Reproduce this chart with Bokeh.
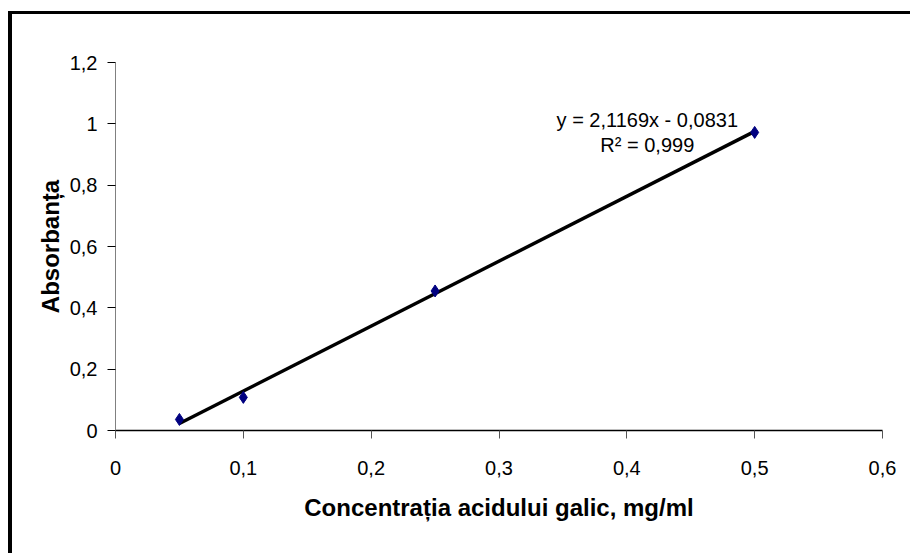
from bokeh.plotting import figure
from bokeh.models import Range1d, FixedTicker, CustomJSTickFormatter, ColumnDataSource, Div
from bokeh.layouts import column, row
from bokeh.embed import file_html
from bokeh.resources import INLINE
from bokeh.core.properties import value

# data
conc = [0.05, 0.1, 0.25, 0.5]
absorb = [0.036, 0.108, 0.455, 0.972]
slope = 2.1169
intercept = -0.0831
x_ticks = [0, 0.1, 0.2, 0.3, 0.4, 0.5, 0.6]
y_ticks = [0, 0.2, 0.4, 0.6, 0.8, 1.0, 1.2]
eq_label = "y = 2,1169x - 0,0831"
r2_label = "R² = 0,999"
x_title = "Concentrația acidului galic, mg/ml"
y_title = "Absorbanța"

FONT = "Liberation Sans"

p = figure(width=898, height=539, output_backend="svg", toolbar_location=None,
           x_range=Range1d(0, 0.6), y_range=Range1d(0, 1.2),
           min_border_left=103, min_border_right=28, min_border_top=48, min_border_bottom=123,
           margin=(0, 0, 0, 0))
p.outline_line_color = None
p.background_fill_color = "white"
p.border_fill_color = "white"
p.xgrid.visible = False
p.ygrid.visible = False

fmt = CustomJSTickFormatter(code="""
if (Math.abs(tick) < 1e-9) return '0';
if (Math.abs(tick - 1) < 1e-9) return '1';
return (Math.round(tick*10)/10).toString().replace('.', ',');
""")

for ax in (p.xaxis[0], p.yaxis[0]):
    ax.formatter = fmt
    ax.major_label_text_font = FONT
    ax.major_label_text_font_size = "20px"
    ax.major_label_text_color = "black"
    ax.minor_tick_line_color = None
    ax.major_tick_in = 0
    ax.major_tick_out = 8
    ax.axis_label_text_font = FONT
    ax.axis_label_text_font_style = "bold"
    ax.axis_label_text_font_size = "24px"
    ax.axis_label_text_color = "black"

p.xaxis.ticker = FixedTicker(ticks=x_ticks)
p.yaxis.ticker = FixedTicker(ticks=y_ticks)
p.xaxis.axis_label = x_title
p.yaxis.axis_label = y_title
p.xaxis.axis_line_color = "black"
p.xaxis.axis_line_width = 1.5
p.xaxis.major_tick_line_color = "#555555"
p.yaxis.axis_line_color = "#808080"
p.yaxis.major_tick_line_color = "black"
p.xaxis.major_label_standoff = 22
p.yaxis.major_label_standoff = 10
p.xaxis.axis_label_standoff = 16
p.yaxis.axis_label_standoff = 3

# trendline
xs_fit = [min(conc), max(conc)]
ys_fit = [slope * x + intercept for x in xs_fit]
p.line(xs_fit, ys_fit, line_color="black", line_width=3.5)

# data points
src = ColumnDataSource(dict(x=conc, y=absorb))
p.scatter("x", "y", source=src, marker="diamond", size=12, fill_color="#000080",
          line_color="#000080")

# equation labels
p.text(x=[0.416], y=[1.011], text=[eq_label], text_align="center", text_baseline="middle",
       text_font=value(FONT), text_font_size="20px", text_color="black")
p.text(x=[0.416], y=[0.93], text=[r2_label], text_align="center", text_baseline="middle",
       text_font=value(FONT), text_font_size="20px", text_color="black")

# outer frame lines (left thick, top)
top_bar = Div(text="", width=902, height=3, margin=(0, 0, 0, 0),
              styles={"background-color": "black"})
left_bar = Div(text="", width=4, height=539, margin=(0, 0, 0, 0),
               styles={"background-color": "black"})
layout = column(top_bar, row(left_bar, p, margin=(0, 0, 0, 0), spacing=0),
                margin=(11, 0, 0, 8), spacing=0)

open("out.html", "w").write(file_html(layout, INLINE))
